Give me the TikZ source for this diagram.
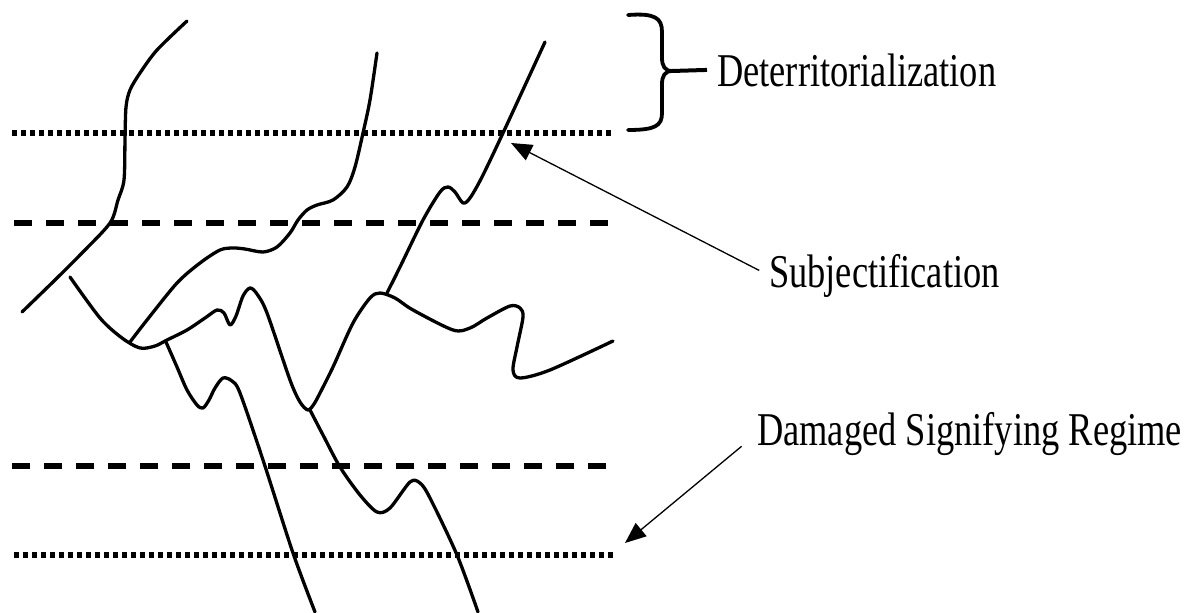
\documentclass[tikz,border=0pt]{standalone}
\usepackage{fontspec}
\setmainfont{Liberation Serif}
\usepackage{tikz}
\usetikzlibrary{arrows.meta}

\begin{document}
\begin{tikzpicture}[
  x=1pt,y=-1pt,
  term/.style={font=\fontsize{47}{56}\selectfont,inner sep=0pt,anchor=base west,xscale=0.775},
  dotline/.style={line width=5.5pt,dash pattern=on 4.5pt off 4.5pt},
  dashline/.style={line width=5.5pt,dash pattern=on 18pt off 14pt},
  strand/.style={line width=3.3pt,line cap=round,line join=round},
  bracket/.style={line width=3.8pt,line cap=round},
  pointer/.style={-{Triangle[length=21pt,width=17pt]},line width=1.3pt}
]
\useasboundingbox (0,0) rectangle (1195,613);

% strata
\draw[dotline] (12,133) -- (613,133);
\draw[dashline] (14,223) -- (611,223);
\draw[dashline] (12,466) -- (608,466);
\draw[dotline] (14,555) -- (615,555);

% lines of flight
\draw[strand] plot[smooth] coordinates {(187,21) (157,50) (140,73) (130,90) (126,107) (125,140) (124,180) (118,200) (110,223) (82,253) (55,280) (22,312)};
\draw[strand] plot[smooth] coordinates {(377,53) (370,100) (363,133) (355,167) (347,187) (333,200) (317,205) (307,210) (298,220) (290,233) (277,247) (263,252) (245,249) (233,248) (220,250) (200,263) (177,283) (147,320) (130,342)};
\draw[strand] plot[smooth] coordinates {(70,277) (100,318) (122,338) (140,348) (155,346) (167,340) (187,330) (205,318) (217,310) (224,313) (230,325) (236,316) (243,296) (250,288) (257,294) (267,313) (290,380) (300,402) (308,410) (314,404) (320,393) (333,367) (353,323) (370,298) (380,293) (395,298) (413,310) (453,330) (470,328) (487,318) (510,306) (520,308) (523,317) (517,347) (513,370) (520,378) (550,370) (613,341)};
\draw[strand] plot[smooth] coordinates {(387,293) (400,267) (423,220) (440,192) (448,187) (455,192) (463,203) (470,198) (482,177) (503,133) (545,42)};
\draw[strand] plot[smooth] coordinates {(166,342) (177,367) (187,390) (197,405) (203,408) (209,400) (215,388) (223,378) (232,381) (240,393) (263,460) (293,553) (315,612)};
\draw[strand] plot[smooth] coordinates {(310,410) (323,435) (340,467) (360,495) (377,512) (390,508) (410,482) (420,483) (430,498) (457,555) (478,612)};

% labels
\node[term] (deterr) at (717,86) {Deterritorialization};
\node[term] (subj) at (769,287) {Subjectification};
\node[term] (damaged) at (757,445) {Damaged Signifying Regime};

% brace over the top band
\draw[bracket] (628,15) .. controls (655,13) and (662,18) .. (662,32) -- (662,58)
  .. controls (662,66) and (665,71) .. (672,71) coordinate (bracetip)
  .. controls (665,71) and (662,76) .. (662,84) -- (662,113)
  .. controls (662,126) and (655,130) .. (628,130);
\draw[line width=4pt] (bracetip) -- ([xshift=-10pt]deterr.west);

\coordinate (subjtip) at (511,143);
\coordinate (damagedtip) at (625,543);
\draw[pointer,shorten <=11pt] (subj.west) -- (subjtip);
\draw[pointer,shorten <=20pt] (damaged.west) -- (damagedtip);
\end{tikzpicture}
\end{document}
